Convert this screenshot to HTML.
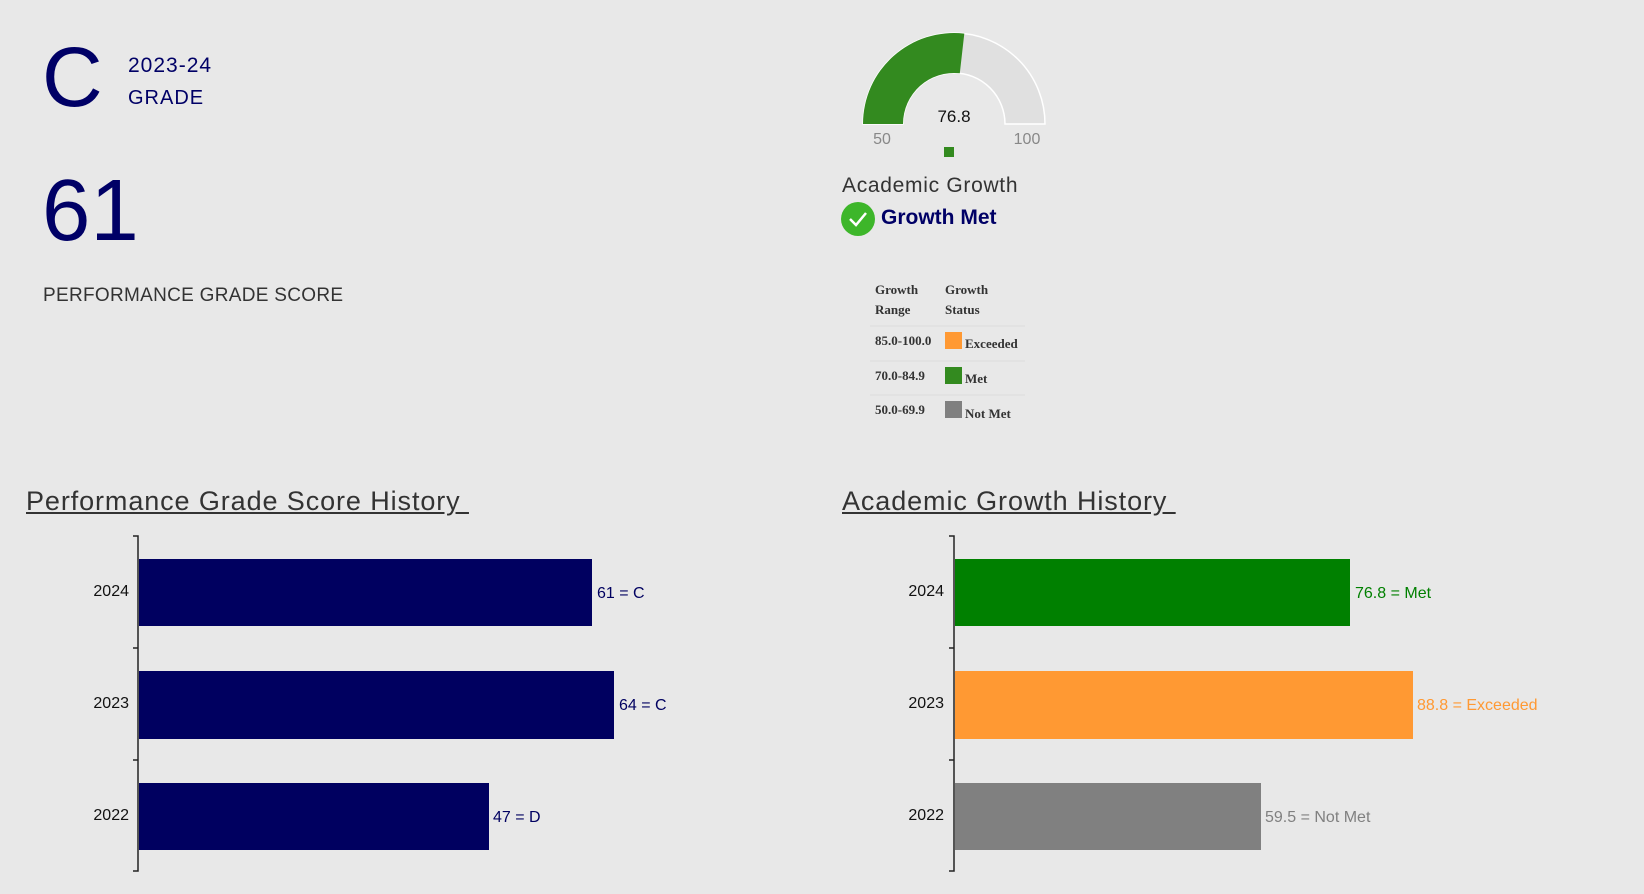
<!DOCTYPE html>
<html><head><meta charset="utf-8"><style>
body{margin:0;width:1644px;height:894px;background:#e8e8e8;overflow:hidden;position:relative;font-family:"Liberation Sans",sans-serif}
.a{position:absolute;white-space:nowrap}
</style></head><body>
<div class="a" style="left:42px;top:35px;font-size:84px;color:#000066;line-height:1">C</div>
<div class="a" style="left:128px;top:54px;font-size:21px;color:#000066;letter-spacing:1px">2023-24</div>
<div class="a" style="left:128px;top:87px;font-size:20px;color:#000066;letter-spacing:1px">GRADE</div>
<div class="a" style="left:42px;top:167px;font-size:87px;color:#000066;line-height:1">61</div>
<div class="a" style="left:43px;top:285px;font-size:19px;color:#333;letter-spacing:0.3px">PERFORMANCE GRADE SCORE</div>

<svg class="a" style="left:0;top:0" width="1644" height="894">
<path d="M863 124 A91 91 0 0 1 1045 124 L1005 124 A51 51 0 0 0 903 124 Z" fill="#e0e0e0" stroke="#fff" stroke-width="1.5"/>
<path d="M863 124 A91 91 0 0 1 964.3 33.6 L959.8 73.3 A51 51 0 0 0 903 124 Z" fill="#338a1f"/>
<rect x="944" y="147" width="10" height="10" fill="#338a1f"/>
<circle cx="858" cy="219" r="17" fill="#3db62a"/>
<path d="M850 219 L856 225 L866 213" stroke="#fff" stroke-width="2.5" fill="none"/>
<g stroke="#ddd" stroke-width="1"><line x1="870" y1="326" x2="1025" y2="326"/><line x1="870" y1="361" x2="1025" y2="361"/><line x1="870" y1="395" x2="1025" y2="395"/></g>
<rect x="945" y="332" width="17" height="17" fill="#ff9933"/>
<rect x="945" y="367" width="17" height="17" fill="#338a1f"/>
<rect x="945" y="401" width="17" height="17" fill="#808080"/>
<g stroke="#222" stroke-width="1.5" fill="none">
<path d="M133 536 H138 V871 H133 M133 648 H138 M133 760 H138"/>
<path d="M949 536 H954 V871 H949 M949 648 H954 M949 760 H954"/>
</g>
<rect x="139" y="559" width="453" height="67" fill="#000060"/>
<rect x="139" y="671" width="475" height="68" fill="#000060"/>
<rect x="139" y="783" width="350" height="67" fill="#000060"/>
<rect x="955" y="559" width="395" height="67" fill="#008000"/>
<rect x="955" y="671" width="458" height="68" fill="#ff9933"/>
<rect x="955" y="783" width="306" height="67" fill="#808080"/>
<g font-family="Liberation Sans,sans-serif" font-size="16" fill="#111" text-anchor="end">
<text x="129" y="596">2024</text><text x="129" y="708">2023</text><text x="129" y="820">2022</text>
<text x="944" y="596">2024</text><text x="944" y="708">2023</text><text x="944" y="820">2022</text>
</g>
<g font-family="Liberation Sans,sans-serif" font-size="16">
<text x="597" y="598" fill="#000060">61 = C</text>
<text x="619" y="710" fill="#000060">64 = C</text>
<text x="493" y="822" fill="#000060">47 = D</text>
<text x="1355" y="598" fill="#008000">76.8 = Met</text>
<text x="1417" y="710" fill="#ff9933">88.8 = Exceeded</text>
<text x="1265" y="822" fill="#808080">59.5 = Not Met</text>
</g>
<g font-family="Liberation Sans,sans-serif">
<text x="954" y="122" font-size="17" fill="#111" text-anchor="middle">76.8</text>
<text x="882" y="144" font-size="16" fill="#888" text-anchor="middle">50</text>
<text x="1027" y="144" font-size="16" fill="#888" text-anchor="middle">100</text>
</g>
<g font-family="Liberation Serif,serif" font-size="13" font-weight="bold" fill="#333">
<text x="875" y="294">Growth</text><text x="875" y="314">Range</text>
<text x="945" y="294">Growth</text><text x="945" y="314">Status</text>
<text x="875" y="345">85.0-100.0</text><text x="965" y="348">Exceeded</text>
<text x="875" y="380">70.0-84.9</text><text x="965" y="383">Met</text>
<text x="875" y="414">50.0-69.9</text><text x="965" y="418">Not Met</text>
</g>
</svg>
<div class="a" style="left:842px;top:174px;font-size:21px;color:#333;letter-spacing:0.7px">Academic Growth</div>
<div class="a" style="left:881px;top:206px;font-size:21px;color:#000066;font-weight:bold">Growth Met</div>
<div class="a" style="left:26px;top:486px;font-size:27px;color:#333;text-decoration:underline;letter-spacing:0.9px">Performance Grade Score History&nbsp;</div>
<div class="a" style="left:842px;top:486px;font-size:27px;color:#333;text-decoration:underline;letter-spacing:0.9px">Academic Growth History&nbsp;</div>
</body></html>
